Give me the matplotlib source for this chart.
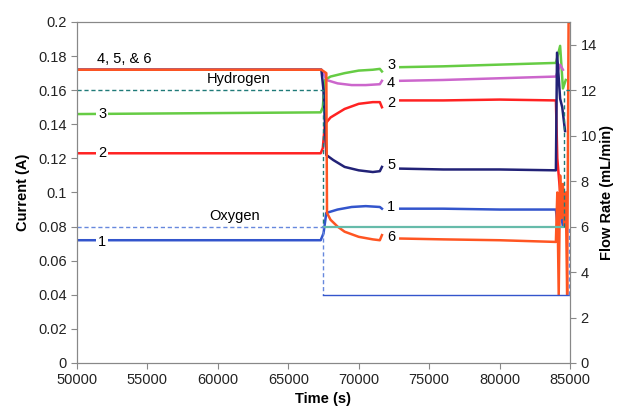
import numpy as np
import matplotlib

matplotlib.use("Agg")
import matplotlib.pyplot as plt

nan = np.nan

# currents (A) for cells 1-6
t1 = [50000, 67300, 67500, 67700, 68500, 69500, 70500, 71500, 71650, 71700, 72950, 76000, 80000, 84000, 84100, 84300, 84500, 84700]
i1 = [0.072, 0.072, 0.076, 0.088, 0.090, 0.0915, 0.092, 0.0915, 0.0905, nan, 0.0905, 0.0905, 0.0900, 0.0900, 0.082, 0.090, 0.080, 0.088]

t2 = [50000, 67300, 67450, 67600, 68000, 69000, 70000, 71000, 71500, 71650, 71700, 72950, 76000, 80000, 84000, 84100, 84300]
i2 = [0.123, 0.123, 0.126, 0.140, 0.144, 0.149, 0.152, 0.153, 0.153, 0.150, nan, 0.154, 0.154, 0.1545, 0.154, 0.120, 0.100]

t3 = [50000, 67300, 67450, 67600, 68000, 69000, 70000, 71000, 71500, 71650, 71700, 72950, 76000, 80000, 84000, 84300, 84500, 84700]
i3 = [0.146, 0.147, 0.150, 0.166, 0.168, 0.170, 0.1715, 0.172, 0.1725, 0.171, nan, 0.1735, 0.174, 0.175, 0.176, 0.186, 0.161, 0.166]

t4 = [50000, 67350, 67500, 67700, 68500, 69500, 70500, 71500, 71650, 71700, 72950, 76000, 80000, 84000, 84300, 84500]
i4 = [0.172, 0.172, 0.170, 0.166, 0.164, 0.163, 0.163, 0.1635, 0.1655, nan, 0.1655, 0.166, 0.167, 0.168, 0.175, 0.172]

t5 = [50000, 67350, 67500, 67700, 68200, 69000, 70000, 71000, 71500, 71650, 71700, 72950, 76000, 80000, 84000, 84080, 84300, 84450, 84650]
i5 = [0.172, 0.172, 0.160, 0.122, 0.119, 0.115, 0.113, 0.112, 0.1125, 0.115, nan, 0.114, 0.1135, 0.1135, 0.113, 0.182, 0.155, 0.150, 0.136]

t6 = [50000, 67350, 67700, 67750, 68000, 68500, 69000, 70000, 71000, 71500, 71650, 71700, 72950, 76000, 80000, 84000,
      84100, 84200, 84300, 84400, 84500, 84600, 84700, 84800, 84900, 85000]
i6 = [0.172, 0.172, 0.170, 0.088, 0.084, 0.080, 0.077, 0.074, 0.0725, 0.072, 0.075, nan, 0.073, 0.0725, 0.072, 0.071,
      0.100, 0.040, 0.110, 0.085, 0.105, 0.080, 0.100, 0.040, 0.200, 0.200]

# gas flow rates (mL/min)
h2_t = [50000, 67500, 67500, 84600, 84600, 85000]
h2_flow = [12, 12, 6, 6, 12, 12]
o2_t = [50000, 67500, 67500, 84900, 84900, 85000]
o2_flow = [6, 6, 3, 3, 6, 6]

cell_labels = ["1", "2", "3", "4", "5", "6"]
colors = ["#3355cc", "#ff2222", "#66cc44", "#cc66cc", "#222277", "#ff5522"]

plt.rcParams["font.family"] = ["Liberation Sans", "DejaVu Sans"]
grey = "#888888"

fig = plt.figure(figsize=(6.18, 4.19), dpi=100)
ax = fig.add_axes([0.1246, 0.1337, 0.7977, 0.8138])
ax2 = ax.twinx()

# flows on the right axis
ax2.plot(h2_t[:3], h2_flow[:3], color="#1f7a78", lw=1.0, ls=(0, (3, 2)))
ax2.plot(h2_t[2:4], h2_flow[2:4], color="#66bbaa", lw=1.6)
ax2.plot(h2_t[3:], h2_flow[3:], color="#1f7a78", lw=1.0, ls=(0, (3, 2)))
ax2.plot(o2_t[:3], o2_flow[:3], color="#6688dd", lw=1.0, ls=(0, (3, 2)))
ax2.plot(o2_t[2:4], o2_flow[2:4], color="#3355cc", lw=1.0)
ax2.plot(o2_t[3:], o2_flow[3:], color="#6688dd", lw=1.0, ls=(0, (3, 2)))

series = [(t1, i1), (t2, i2), (t3, i3), (t4, i4), (t5, i5), (t6, i6)]
for (t, i), c in zip(series, colors):
    ax.plot(t, i, color=c, lw=1.8, solid_joinstyle="round")

box = dict(facecolor="white", edgecolor="none", pad=1.5)
fs = 10.5
ax.text(51800, 0.146, "3", ha="center", va="center", fontsize=fs, bbox=box)
ax.text(51800, 0.123, "2", ha="center", va="center", fontsize=fs, bbox=box)
ax.text(51800, 0.071, "1", ha="center", va="center", fontsize=fs, bbox=box)
ax.text(51400, 0.1785, "4, 5, & 6", ha="left", va="center", fontsize=fs)
ax.text(61500, 0.1665, "Hydrogen", ha="center", va="center", fontsize=fs)
ax.text(61200, 0.086, "Oxygen", ha="center", va="center", fontsize=fs)

right_pos = [0.0915, 0.1525, 0.175, 0.1645, 0.116, 0.074]
for lab, y in zip(cell_labels, right_pos):
    ax.text(72300, y, lab, ha="center", va="center", fontsize=fs)

ax.set_xlim(50000, 85000)
ax.set_ylim(0, 0.2)
ax.set_xticks(np.arange(50000, 85001, 5000))
ax.set_yticks(np.arange(0, 0.2001, 0.02))
ax.set_yticklabels(["0", "0.02", "0.04", "0.06", "0.08", "0.1", "0.12", "0.14", "0.16", "0.18", "0.2"])
ax2.set_ylim(0, 15)
ax2.set_yticks(np.arange(0, 15, 2))

for a in (ax, ax2):
    for s in a.spines.values():
        s.set_color(grey)
    a.tick_params(direction="out", length=4, color=grey, labelsize=10.5, labelcolor="#222222")

ax.set_xlabel("Time (s)", fontsize=10.5, fontweight="bold", labelpad=3)
ax.set_ylabel("Current (A)", fontsize=10.5, fontweight="bold", labelpad=6)
ax2.set_ylabel("Flow Rate (mL/min)", fontsize=10.5, fontweight="bold", labelpad=2)

fig.savefig("out.png", dpi=100)
